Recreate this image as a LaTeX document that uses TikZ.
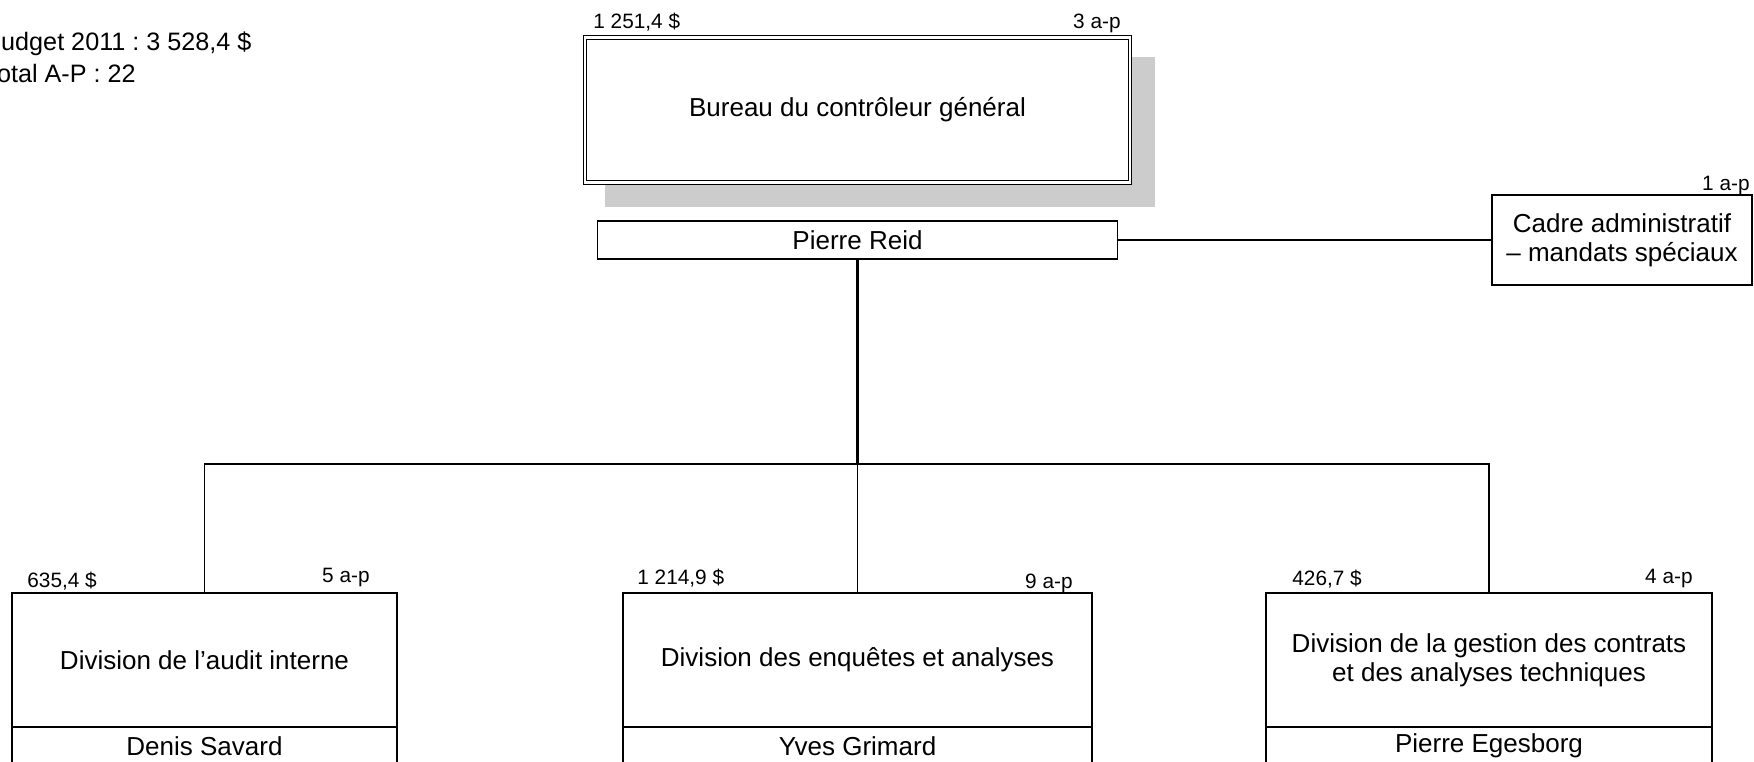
\documentclass[tikz,border=0pt]{standalone}
\usepackage{fontspec}
\setmainfont{Liberation Sans}
\usetikzlibrary{positioning,backgrounds}
\frenchspacing

\tikzset{
	unit/.style={draw, line width=0.7pt, fill=white, inner sep=0pt, outer sep=0pt,
		align=center, font=\fontsize{13}{14.5}\selectfont},
	lbl/.style={inner sep=0pt, font=\fontsize{10.4}{12}\selectfont},
	link/.style={line width=0.7pt},
}

\begin{document}
\begin{tikzpicture}[x=0.5pt,y=-0.5pt]
		\useasboundingbox (0,0) rectangle (1754,761);
		% totals, cut by the left margin
		\node[lbl, font=\fontsize{12.6}{14}\selectfont, anchor=base west] (budget) at (-16,50) {Budget 2011 : 3 528,4 \$};
		\node[lbl, font=\fontsize{12.6}{14}\selectfont, anchor=base west] (total) at (-16,82) {Total A-P : 22};
		% head office
		\node[unit, line width=0.5pt, double, double distance=1.4pt, minimum width=272.5pt, minimum height=72.5pt] (head) at (857.5,110) {Bureau du contrôleur général};
		\begin{scope}[on background layer]
			\fill[black!20] ([shift={(19.5,19.5)}]head.north west) rectangle ([shift={(24.5,24.5)}]head.south east);
		\end{scope}
		\node[lbl, anchor=base west] (headbud) at (593,28) {1 251,4 \$};
		\node[lbl, anchor=base east] (headap) at (1121,28) {3 a-p};
		\node[unit, minimum width=259.75pt, minimum height=19pt] (reid) at (857.5,240) {Pierre Reid};
		% staff
		\node[unit, minimum width=130pt, minimum height=45pt] (cadre) at (1622,240) {Cadre administratif\\– mandats spéciaux};
		\node[lbl, anchor=base east] (cadreap) at (1750,190) {1 a-p};
		% divisions
		\node[unit, minimum width=192.5pt, minimum height=67pt] (audit) at (204.5,660) {Division de l’audit interne};
		\node[unit, minimum width=192.5pt, minimum height=19pt, below=0pt of audit] (savard) {Denis Savard};
		\node[lbl, anchor=base west] (auditbud) at (27,587) {635,4 \$};
		\node[lbl, anchor=base east] (auditap) at (370,582) {5 a-p};
		\node[unit, minimum width=234.5pt, minimum height=67pt] (enquetes) at (857.5,660) {Division des enquêtes et analyses};
		\node[unit, minimum width=234.5pt, minimum height=19pt, below=0pt of enquetes] (grimard) {Yves Grimard};
		\node[lbl, anchor=base west] (enqbud) at (637,584) {1 214,9 \$};
		\node[lbl, anchor=base east] (enqap) at (1073,588) {9 a-p};
		\node[unit, minimum width=223pt, minimum height=67pt] (contrats) at (1489,660) {Division de la gestion des contrats\\et des analyses techniques};
		\node[unit, minimum width=223pt, minimum height=19pt, below=0pt of contrats] (egesborg) {Pierre Egesborg};
		\node[lbl, anchor=base west] (conbud) at (1292,585) {426,7 \$};
		\node[lbl, anchor=base east] (conap) at (1693,583) {4 a-p};
		% links
		\coordinate (bus) at (857.5,464);
		\draw[link] (reid.east) -- (cadre.west);
		\draw[link] (audit.north) |- (bus);
		\draw[link] (contrats.north) |- (bus);
		\draw[link] (enquetes.north) -- (bus);
		\draw[link, line width=1.4pt] (reid.south) -- (bus);
	\end{tikzpicture}
\end{document}
